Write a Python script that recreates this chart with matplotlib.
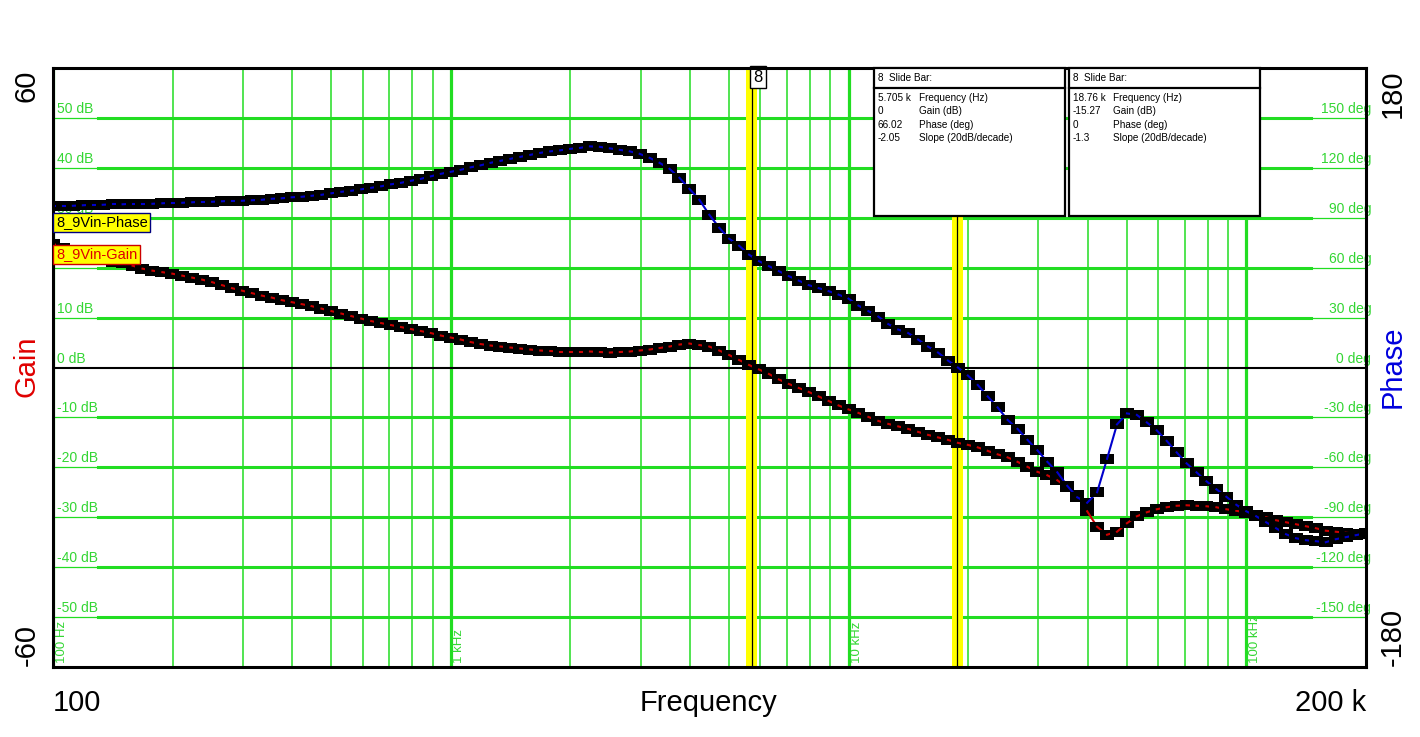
import numpy as np
import matplotlib
matplotlib.use("Agg")
import matplotlib.pyplot as plt
import matplotlib.transforms as mtransforms
from matplotlib.patches import Rectangle
from matplotlib.lines import Line2D

plt.rcParams["font.family"] = ["Liberation Sans", "DejaVu Sans"]

W, H = 1420, 737

# sweep: 40 points per decade starting at 100 Hz
PTS_PER_DECADE = 40
F_START = 100.0

gain_db = [
    24.8, 24.0, 23.2, 22.6, 22.0, 21.5, 21.2, 20.9, 20.4, 19.8,
    19.4, 19.1, 18.8, 18.4, 18.0, 17.6, 17.1, 16.5, 15.9, 15.4,
    14.9, 14.4, 14.0, 13.5, 13.1, 12.7, 12.3, 11.8, 11.3, 10.8,
    10.3, 9.8, 9.3, 8.9, 8.5, 8.1, 7.7, 7.3, 6.9, 6.4,
    6.0, 5.6, 5.1, 4.7, 4.4, 4.2, 4.0, 3.8, 3.6, 3.4,
    3.3, 3.2, 3.2, 3.2, 3.2, 3.1, 3.0, 3.1, 3.2, 3.4,
    3.6, 3.9, 4.2, 4.6, 4.8, 4.5, 4.2, 3.4, 2.5, 1.5,
    0.5, -0.4, -1.3, -2.4, -3.3, -4.1, -4.9, -5.8, -6.7, -7.6,
    -8.4, -9.1, -9.9, -10.7, -11.3, -11.8, -12.3, -12.9, -13.5, -14.0,
    -14.5, -15.1, -15.5, -16.0, -16.7, -17.4, -18.0, -18.9, -19.9, -20.9,
    -21.6, -22.6, -24.0, -25.6, -28.8, -31.9, -33.5, -32.9, -31.2, -29.8,
    -29.0, -28.4, -28.0, -27.7, -27.6, -27.7, -27.8, -28.0, -28.4, -28.7,
    -29.1, -29.5, -30.0, -30.6, -31.0, -31.4, -31.8, -32.2, -32.7, -32.9,
    -33.1, -33.3, -33.4,
]

phase_deg = [
    97.2, 97.2, 97.2, 97.5, 97.8, 97.8, 98.1, 98.1, 98.4, 98.4,
    98.4, 98.7, 99.0, 99.0, 99.3, 99.6, 99.6, 99.9, 100.2, 100.2,
    100.5, 100.8, 101.4, 101.7, 102.3, 102.6, 103.2, 103.8, 104.7, 105.6,
    106.2, 107.1, 108.0, 108.9, 110.1, 111.0, 112.2, 113.4, 114.9, 116.4,
    117.6, 118.8, 120.3, 121.5, 123.0, 124.2, 125.4, 126.6, 127.8, 129.0,
    129.9, 130.5, 131.4, 132.0, 132.9, 132.6, 131.7, 130.8, 129.9, 128.4,
    126.0, 123.0, 119.4, 114.0, 107.4, 100.8, 91.8, 84.0, 77.4, 73.2,
    67.8, 63.9, 60.9, 57.9, 54.9, 52.2, 49.5, 47.7, 45.9, 43.8,
    41.4, 37.2, 33.9, 30.6, 26.1, 22.8, 20.7, 16.8, 12.6, 9.0,
    4.2, 0.0, -4.8, -10.5, -17.4, -24.0, -31.5, -36.9, -43.5, -49.8,
    -56.7, -63.0, -71.1, -78.0, -81.3, -75.0, -54.9, -34.2, -27.6, -28.5,
    -33.0, -37.8, -44.1, -51.0, -57.6, -63.0, -68.4, -73.2, -77.7, -82.5,
    -86.4, -89.4, -93.0, -96.6, -100.2, -102.6, -103.8, -104.4, -105.0, -103.2,
    -102.0, -100.8, -99.6,
]

cursor_hz = [5705, 18760]
cursor_values = [
    ["5.705 k", "0", "66.02", "-2.05"],
    ["18.76 k", "-15.27", "0", "-1.3"],
]
info_names = ["Frequency (Hz)", "Gain (dB)", "Phase (deg)", "Slope (20dB/decade)"]

gain_levels = [50, 40, 30, 20, 10, 0, -10, -20, -30, -40, -50]
decades = [100, 1000, 10000, 100000]
decade_labels = ["100 Hz", "1 kHz", "10 kHz", "100 kHz"]

GREEN = "#22DD22"
GREEN_TXT = "#33D633"
RED = "#CC0000"
BLUE = "#0000CC"

RECT = [(-5.5, -4.5), (5.5, -4.5), (5.5, 4.5), (-5.5, 4.5), (-5.5, -4.5)]


def fx(x):
    return x / W


def fy(y):
    return 1 - y / H


def draw_trace(a, x, y, color):
    # marker then segment, so each segment lies on its start marker
    z = 3
    for i in range(len(x)):
        a.plot(x[i], y[i], marker=RECT, ms=9.4, mew=0, color="black",
               ls="none", zorder=z)
        if i + 1 < len(x):
            a.plot(x[i:i + 2], y[i:i + 2], color=color, lw=1.5, zorder=z + 0.5)
        z += 1


freq_hz = F_START * 10 ** (np.arange(len(gain_db)) / PTS_PER_DECADE)

fig = plt.figure(figsize=(W / 100, H / 100), dpi=100)
ax = fig.add_axes([fx(53), fy(667), 1313 / W, 599 / H])
ax.set_xscale("log")
ax.set_xlim(100, 200000)
ax.set_ylim(-60, 60)
for s in ax.spines.values():
    s.set_visible(False)

# vertical grid
for dec in decades:
    for m in range(2, 10):
        if dec * m < 200000:
            ax.axvline(dec * m, color=GREEN, lw=1.1, zorder=1)
    ax.axvline(dec, color=GREEN, lw=2.3, zorder=1)

trans_y = mtransforms.blended_transform_factory(ax.transAxes, ax.transData)
for lev in gain_levels:
    if lev == 0:
        ax.axhline(0, color="black", lw=1.5, zorder=1.2)
    else:
        ax.axhline(lev, color=GREEN, lw=0.9, zorder=1)
        ax.axhline(lev, xmin=0.034, xmax=0.958, color=GREEN, lw=2.2, zorder=1)
    ax.text(0.003, lev + 0.4, f"{lev} dB", transform=trans_y, ha="left",
            va="bottom", fontsize=10, color=GREEN_TXT, zorder=1.1)
    ax.text(1.004, lev + 0.4, f"{lev * 3} deg", transform=trans_y, ha="right",
            va="bottom", fontsize=10, color=GREEN_TXT, zorder=1.1)

trans_x = mtransforms.blended_transform_factory(ax.transData, ax.transAxes)
for dec, lab in zip(decades, decade_labels):
    ax.text(dec * 10 ** (2.5 / 397.7), 0.006, lab, transform=trans_x,
            rotation=90, ha="left", va="bottom", fontsize=9.5,
            color=GREEN_TXT, zorder=1.1)

# cursors
for f in cursor_hz:
    ax.axvspan(f * 10 ** (-5.5 / 397.7), f * 10 ** (5.5 / 397.7),
               color="#FFFF00", lw=0, zorder=1.5)
    ax.axvline(f, color="black", lw=0.9, zorder=1.6)

draw_trace(ax, freq_hz, gain_db, RED)

ax2 = ax.twinx()
ax2.set_ylim(-180, 180)
for a in (ax, ax2):
    a.tick_params(which="both", left=False, right=False, bottom=False,
                  top=False, labelleft=False, labelright=False,
                  labelbottom=False)
for s in ax2.spines.values():
    s.set_color("black")
    s.set_linewidth(2.2)
    s.set_zorder(1000)

draw_trace(ax2, freq_hz, phase_deg, BLUE)

ax2.text(cursor_hz[0] * 10 ** (1.5 / 397.7), 179.0, "8", ha="left", va="top",
         fontsize=12, zorder=900,
         bbox=dict(boxstyle="square,pad=0.2", fc="white", ec="black", lw=1))

# slide bar info boxes
for k, (x0, vals) in enumerate(zip([874, 1069], cursor_values)):
    x1 = x0 + 191
    fig.add_artist(Rectangle((fx(x0), fy(216)), (x1 - x0) / W, 148 / H,
                             transform=fig.transFigure, fc="white", ec="black",
                             lw=1.6, zorder=5))
    fig.add_artist(Line2D([fx(x0), fx(x1)], [fy(88), fy(88)],
                          transform=fig.transFigure, color="black", lw=1.6,
                          zorder=6))
    fig.text(fx(x0 + 4), fy(78), "8  Slide Bar:", fontsize=7.2, va="center",
             zorder=7)
    col2 = x0 + 45 if k == 0 else x0 + 44
    for r, (v, name) in enumerate(zip(vals, info_names)):
        yy = 98 + r * 13.3
        fig.text(fx(x0 + 4), fy(yy), v, fontsize=7.2, va="center", zorder=7)
        fig.text(fx(col2), fy(yy), name, fontsize=7.2, va="center", zorder=7)

# trace labels
fig.text(fx(56), fy(222.5), "8_9Vin-Phase", fontsize=10.5, va="center",
         color="black", zorder=8,
         bbox=dict(boxstyle="square,pad=0.18", fc="#FFFF00", ec="#000080", lw=1))
fig.text(fx(56), fy(254.5), "8_9Vin-Gain", fontsize=10.5, va="center",
         color="#DD0000", zorder=8,
         bbox=dict(boxstyle="square,pad=0.18", fc="#FFFF00", ec="#CC0000", lw=1))

# axis texts
fig.text(fx(27), fy(70), "60", rotation=90, ha="center", va="top", fontsize=21)
fig.text(fx(27), fy(666), "-60", rotation=90, ha="center", va="bottom", fontsize=21)
fig.text(fx(27), fy(366), "Gain", rotation=90, ha="center", va="center",
         fontsize=21, color="#E00000")
fig.text(fx(1393), fy(70), "180", rotation=90, ha="center", va="top", fontsize=21)
fig.text(fx(1393), fy(666), "-180", rotation=90, ha="center", va="bottom", fontsize=21)
fig.text(fx(1393), fy(367), "Phase", rotation=90, ha="center", va="center",
         fontsize=21, color="#0000DD")
fig.text(fx(53), fy(703), "100", ha="left", va="center", fontsize=21)
fig.text(fx(1366), fy(703), "200 k", ha="right", va="center", fontsize=21)
fig.text(fx(709), fy(703), "Frequency", ha="center", va="center", fontsize=21)

fig.savefig("out.png", dpi=100)
